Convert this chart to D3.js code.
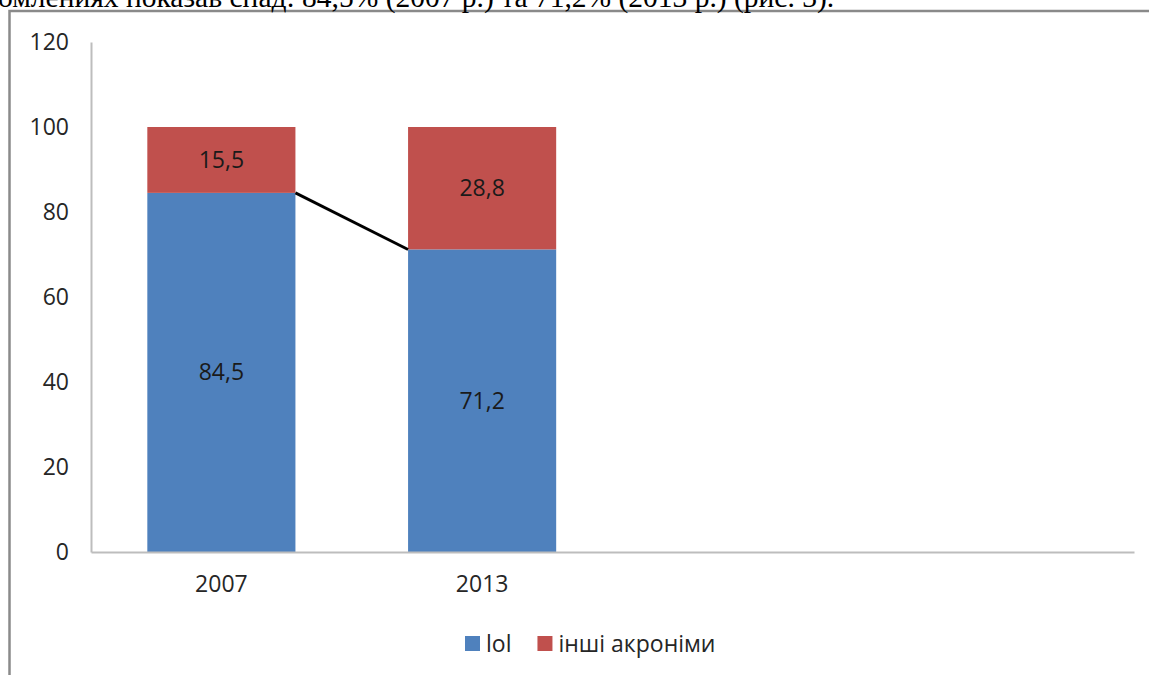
<!DOCTYPE html>
<html>
<head>
<meta charset="utf-8">
<script src="https://cdn.jsdelivr.net/npm/d3@7"></script>
<style>
  html, body { margin: 0; padding: 0; background: #fff; overflow: hidden; }
  svg { display: block; }
</style>
</head>
<body>
<svg id="chart" width="1149" height="675"></svg>
<script>
// Share of "lol" vs other acronyms, by year (percent)
const categories = ["2007", "2013", "", ""];
const lolValues = [84.5, 71.2, null, null];
const otherValues = [15.5, 28.8, null, null];
const seriesNames = ["lol", "інші акроніми"];
const seriesColors = ["#4f81bd", "#c0504d"];
const yTicks = [0, 20, 40, 60, 80, 100, 120];
const captionText = "омлениях показав спад: 84,5% (2007 р.) та 71,2% (2013 р.) (рис. 3).";

const W = 1149, H = 675;
const FONT = "'Open Sans', 'DejaVu Sans', sans-serif";
const svg = d3.select("#chart");

// Chart frame
svg.append("rect")
  .attr("x", 9.5).attr("y", 11)
  .attr("width", 1200).attr("height", 700)
  .attr("fill", "none")
  .attr("stroke", "#8a8a8a")
  .attr("stroke-width", 2.5);

// Running text line above the figure
svg.append("text")
  .attr("x", -2).attr("y", 7)
  .attr("font-family", "'Liberation Serif', 'Times New Roman', serif")
  .attr("font-size", 29.5)
  .attr("fill", "#000")
  .text(captionText);

const plot = { left: 91, right: 1134, top: 42, bottom: 552 };

const x = d3.scaleBand()
  .domain(d3.range(categories.length))
  .range([plot.left, plot.right])
  .paddingInner(0.432)
  .paddingOuter(0.216);

const y = d3.scaleLinear()
  .domain([0, 120])
  .range([plot.bottom, plot.top]);

const fmt = v => d3.format(".1f")(v).replace(".", ",");

// Stacked data
const rows = categories.map((c, i) => ({ i, c, lol: lolValues[i], other: otherValues[i] }));
const stacked = d3.stack().keys(["lol", "other"]).value((d, k) => d[k] == null ? 0 : d[k])(rows);

const g = svg.append("g");

stacked.forEach((layer, si) => {
  g.selectAll(null)
    .data(layer.filter(d => d.data[layer.key] != null))
    .join("rect")
    .attr("x", d => x(d.data.i))
    .attr("width", x.bandwidth())
    .attr("y", d => y(d[1]))
    .attr("height", d => y(d[0]) - y(d[1]))
    .attr("fill", seriesColors[si]);

  g.selectAll(null)
    .data(layer.filter(d => d.data[layer.key] != null))
    .join("text")
    .attr("x", d => x(d.data.i) + x.bandwidth() / 2)
    .attr("y", d => y((d[0] + d[1]) / 2))
    .attr("dy", "0.35em")
    .attr("text-anchor", "middle")
    .attr("font-family", FONT)
    .attr("font-size", 23)
    .attr("fill", "#1a1a1a")
    .text(d => fmt(d.data[layer.key]));
});

// Series line joining the tops of the first series
const lolLayer = stacked[0].filter(d => d.data.lol != null);
for (let k = 0; k < lolLayer.length - 1; k++) {
  const a = lolLayer[k], b = lolLayer[k + 1];
  g.append("line")
    .attr("x1", x(a.data.i) + x.bandwidth())
    .attr("y1", y(a[1]))
    .attr("x2", x(b.data.i))
    .attr("y2", y(b[1]))
    .attr("stroke", "#000")
    .attr("stroke-width", 2.8);
}

// Axes
const yAxis = svg.append("g")
  .attr("transform", `translate(${plot.left},0)`)
  .call(d3.axisLeft(y).tickValues(yTicks).tickSize(0).tickPadding(22).tickFormat(d3.format("d")));
yAxis.select(".domain").attr("stroke", "#bdbdbd").attr("stroke-width", 2);
yAxis.selectAll("text")
  .attr("font-family", FONT).attr("font-size", 23).attr("fill", "#262626");

const xAxis = svg.append("g")
  .attr("transform", `translate(0,${plot.bottom})`)
  .call(d3.axisBottom(x).tickSize(0).tickPadding(24).tickFormat(i => categories[i]));
xAxis.select(".domain").attr("stroke", "#bdbdbd").attr("stroke-width", 2);
xAxis.selectAll("text")
  .attr("font-family", FONT).attr("font-size", 23).attr("fill", "#262626");

// Legend
const legend = svg.append("g").attr("transform", "translate(465,636)");
let lx = 0;
seriesNames.forEach((name, i) => {
  const item = legend.append("g").attr("transform", `translate(${lx},0)`);
  item.append("rect").attr("width", 15).attr("height", 15).attr("fill", seriesColors[i]);
  const t = item.append("text")
    .attr("x", 21).attr("y", 7.5).attr("dy", "0.35em")
    .attr("font-family", FONT).attr("font-size", 23).attr("fill", "#262626")
    .text(name);
  lx += 21 + t.node().getComputedTextLength() + 26;
});
</script>
</body>
</html>
